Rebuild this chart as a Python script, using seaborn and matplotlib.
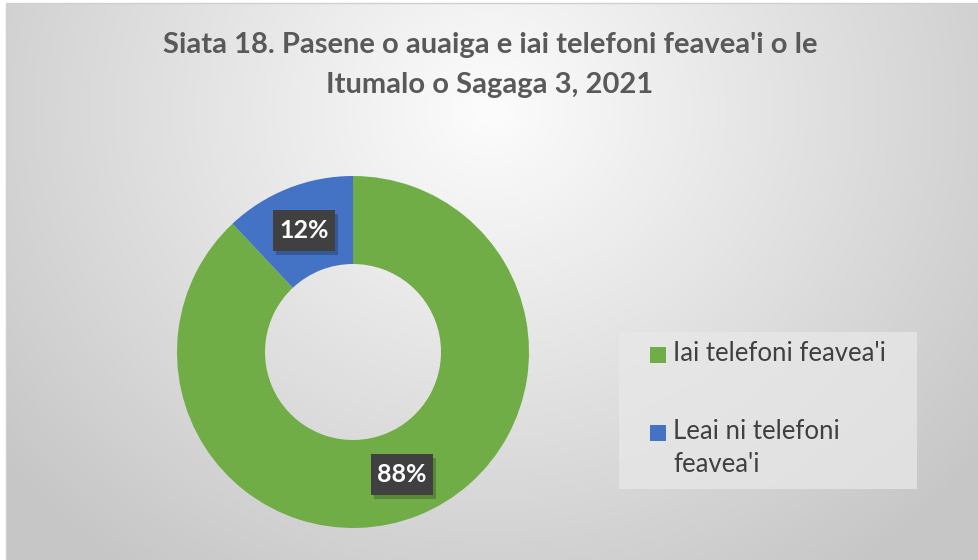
import numpy as np
import matplotlib
matplotlib.use("Agg")
import matplotlib.pyplot as plt
from matplotlib.patches import Rectangle
import seaborn as sns

# ---- data ----
categories = ["Iai telefoni feavea'i", "Leai ni telefoni\nfeavea'i"]
values = [88, 12]
value_labels = ["88%", "12%"]
colors = ["#70AD47", "#4472C4"]
title_lines = ["Siata 18. Pasene o auaiga e iai telefoni feavea'i o le",
               "Itumalo o Sagaga 3, 2021"]

sns.set_theme(style="white")
plt.rcParams['font.family'] = ['Lato', 'DejaVu Sans']

W, H = 979, 560
fig = plt.figure(figsize=(W / 100, H / 100), dpi=100)
fig.patch.set_facecolor("white")
ax = fig.add_axes([0, 0, 1, 1])
ax.set_xlim(0, W)
ax.set_ylim(0, H)
ax.axis("off")

def py(y):
    return H - y

# background radial gradient (chart area)
x0, x1, y0, y1 = 6, W, 3, H
gx = np.linspace(x0, x1, 400)
gy = np.linspace(y0, y1, 240)
X, Y = np.meshgrid(gx, gy)
d = np.sqrt(((X - 490) / 620) ** 2 + ((Y - 110) / 560) ** 2)
d = np.clip(d, 0, 1)
v = 0.99 - 0.21 * d
img = np.dstack([v, v, v])
ax.imshow(img, extent=(x0, x1, py(y1), py(y0)), origin="upper",
          aspect="auto", zorder=0, interpolation="bilinear")
ax.add_patch(Rectangle((x0, py(y1)), x1 - x0, y1 - y0, fill=False,
                       ec="#d0d0d0", lw=1.0, zorder=1))

# donut
cx, cy, R = 353, 352, 176
wedges, _ = ax.pie(values, colors=colors, startangle=90, counterclock=False,
                   radius=R, center=(cx, py(cy)),
                   wedgeprops=dict(width=R * 0.5, edgecolor="none"),
                   frame=True)
for w in wedges:
    w.set_zorder(2)
ax.set_xlim(0, W)
ax.set_ylim(0, H)
ax.axis("off")

# data labels (dark boxes with soft shadow)
label_pos = [(402, 474), (304, 230)]
bw, bh = 62, 41
for (lx, ly), txt in zip(label_pos, value_labels):
    ax.add_patch(Rectangle((lx - bw / 2 + 3, py(ly) - bh / 2 - 4), bw, bh,
                           fc="black", ec="none", alpha=0.22, zorder=3))
    ax.add_patch(Rectangle((lx - bw / 2, py(ly) - bh / 2), bw, bh,
                           fc="#404040", ec="none", zorder=3))
    ax.text(lx, py(ly), txt, ha="center", va="center", fontsize=18,
            fontweight="bold", color="white", zorder=4)

# title
ax.text(490, py(45), title_lines[0], ha="center", va="center", fontsize=21,
        fontweight="bold", color="#595959", zorder=5)
ax.text(490, py(85), title_lines[1], ha="center", va="center", fontsize=21,
        fontweight="bold", color="#595959", zorder=5)

# legend
ax.add_patch(Rectangle((619, py(489)), 298, 157, fc="#e8e8e8", ec="none",
                       alpha=0.75, zorder=2))
leg_y = [355, 433]
for (c, lab, ly) in zip(colors, categories, leg_y):
    ax.add_patch(Rectangle((650, py(ly) - 8), 16, 16, fc=c, ec="none", zorder=3))
    ax.text(673, py(ly - 14), lab, ha="left", va="top", fontsize=18.5,
            color="#404040", zorder=3, linespacing=1.42)

fig.savefig("out.png", dpi=100)
